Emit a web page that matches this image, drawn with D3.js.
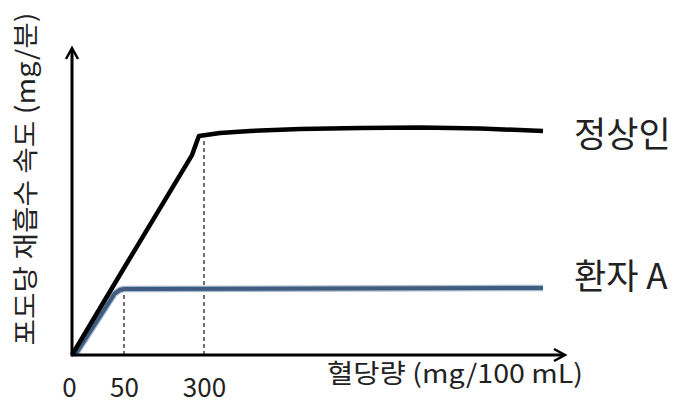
<!DOCTYPE html>
<html>
<head>
<meta charset="utf-8">
<script src="https://cdn.jsdelivr.net/npm/d3@7"></script>
<style>
  body { margin: 0; background: #fff; }
  text { font-family: "Noto Sans CJK KR", "Noto Sans", sans-serif; fill: #222; }
</style>
</head>
<body>
<script>
// Dimensions
var width = 682,
    height = 403;

// Data (schematic)
var tickValues = [0, 50, 300];
var normalX = [0, 50, 262, 284, 349, 440, 593, 776, 959, 1141, 1333];
var normalY = [0, 34, 78, 85.6, 86.8, 87.6, 88.3, 88.7, 88.9, 88.5, 87.6];
var patientX = [3, 41, 46, 50, 1333];
var patientY = [0, 24, 25.4, 25.8, 26.2];
var dashX = [50, 300];
var dashTop = [25, 84];
var seriesNames = ["정상인", "환자 A"];

// Scales: x axis is not linear in the picture, so use a piecewise scale
var x = d3.scaleLinear()
    .domain([0, 50, 300, 1400])
    .range([72, 124, 204, 565]);

var y = d3.scaleLinear()
    .domain([0, 120])
    .range([355, 48]);

var svg = d3.select("body")
    .append("svg")
    .attr("width", width)
    .attr("height", height);

var line = d3.line()
    .x(d => x(d[0]))
    .y(d => y(d[1]));

var normal = d3.zip(normalX, normalY);
var patient = d3.zip(patientX, patientY);

// dashed guide lines
svg.selectAll(".guide")
    .data(d3.zip(dashX, dashTop))
    .enter()
    .append("line")
    .attr("x1", d => x(d[0]))
    .attr("x2", d => x(d[0]))
    .attr("y1", y(0))
    .attr("y2", d => y(d[1]))
    .attr("stroke", "#111")
    .attr("stroke-width", 1.2)
    .attr("stroke-dasharray", "4,3");

// patient line (light halo + dark core)
svg.append("path")
    .attr("d", line(patient))
    .attr("fill", "none")
    .attr("stroke", "#a7b9cf")
    .attr("stroke-width", 6.5)
    .attr("stroke-linejoin", "round");
svg.append("path")
    .attr("d", line(patient))
    .attr("fill", "none")
    .attr("stroke", "#3f5c7e")
    .attr("stroke-width", 4)
    .attr("stroke-linejoin", "round");

// normal line
svg.append("path")
    .attr("d", line(normal))
    .attr("fill", "none")
    .attr("stroke", "#000")
    .attr("stroke-width", 4.5)
    .attr("stroke-linejoin", "round");

// axes with arrow heads
var x0 = x(0), y0 = y(0), xEnd = x.range()[3], yEnd = y.range()[1];
svg.append("line")
    .attr("x1", x0).attr("x2", xEnd - 1)
    .attr("y1", y0).attr("y2", y0)
    .attr("stroke", "#000").attr("stroke-width", 3);
svg.append("line")
    .attr("x1", x0).attr("x2", x0)
    .attr("y1", y0 + 1.5).attr("y2", yEnd + 1)
    .attr("stroke", "#000").attr("stroke-width", 3);

svg.append("path")
    .attr("d", "M" + (x0 - 6) + "," + (yEnd + 11) + "L" + x0 + "," + yEnd + "L" + (x0 + 6) + "," + (yEnd + 11))
    .attr("fill", "none").attr("stroke", "#000").attr("stroke-width", 2.5);
svg.append("path")
    .attr("d", "M" + (xEnd - 11) + "," + (y0 - 6) + "L" + xEnd + "," + y0 + "L" + (xEnd - 11) + "," + (y0 + 6))
    .attr("fill", "none").attr("stroke", "#000").attr("stroke-width", 2.5);

// tick labels
var xAxis = svg.append("g")
    .attr("transform", "translate(0," + y0 + ")")
    .call(d3.axisBottom(x).tickValues(tickValues).tickSize(0).tickPadding(24));
xAxis.select(".domain").remove();
xAxis.selectAll("text")
    .attr("font-size", 26)
    .attr("font-family", "\"Noto Sans\", sans-serif")
    .attr("fill", "#222");
xAxis.selectAll(".tick").filter(d => d === 0).select("text").attr("dx", -3);

// axis titles
svg.append("text")
    .attr("x", 455)
    .attr("y", 383)
    .attr("text-anchor", "middle")
    .attr("font-size", 26)
    .attr("textLength", 256)
    .attr("lengthAdjust", "spacingAndGlyphs")
    .text("혈당량 (mg/100 mL)");

svg.append("text")
    .attr("transform", "translate(35,179) rotate(-90)")
    .attr("text-anchor", "middle")
    .attr("font-size", 26)
    .attr("textLength", 333)
    .attr("lengthAdjust", "spacingAndGlyphs")
    .text("포도당 재흡수 속도 (mg/분)");

// series labels
svg.selectAll(".lab")
    .data(seriesNames)
    .enter()
    .append("text")
    .attr("x", 574)
    .attr("y", (d, i) => i === 0 ? 147 : 289)
    .attr("font-size", 35)
    .text(d => d);
</script>
</body>
</html>
